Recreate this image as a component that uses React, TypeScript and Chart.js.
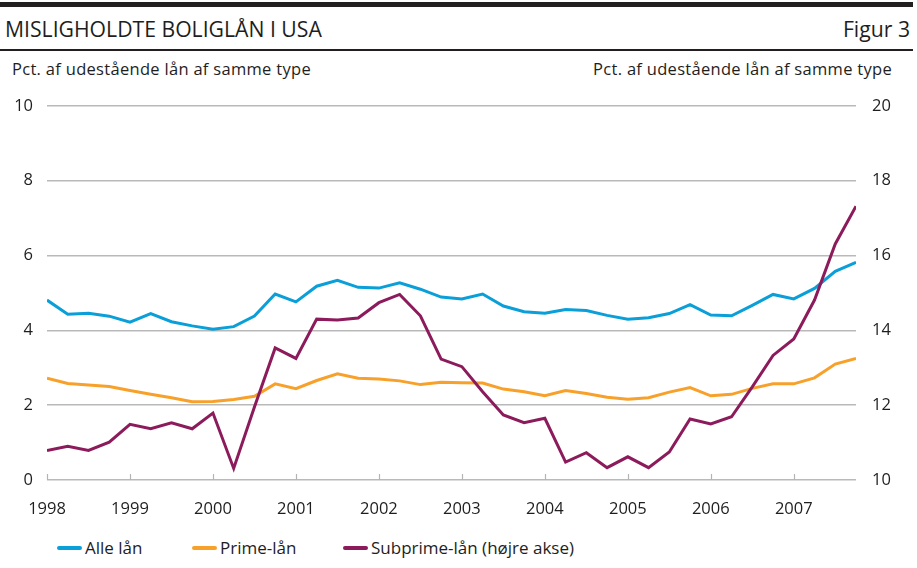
import React, { useEffect, useRef } from "react";
import { Chart, registerables } from "chart.js";

Chart.register(...registerables);

const startYear = 1998;
const yearTicks = [1998, 1999, 2000, 2001, 2002, 2003, 2004, 2005, 2006, 2007];

const alleLaan = [4.81, 4.43, 4.46, 4.38, 4.22, 4.45, 4.23, 4.12, 4.03, 4.10, 4.38, 4.97, 4.76, 5.18, 5.34, 5.15, 5.13, 5.27, 5.10, 4.89, 4.84, 4.97, 4.65, 4.50, 4.46, 4.56, 4.53, 4.40, 4.30, 4.34, 4.45, 4.69, 4.41, 4.39, 4.67, 4.96, 4.84, 5.12, 5.58, 5.82];
const primeLaan = [2.72, 2.58, 2.54, 2.50, 2.39, 2.29, 2.20, 2.09, 2.10, 2.15, 2.24, 2.57, 2.44, 2.66, 2.84, 2.72, 2.70, 2.65, 2.55, 2.61, 2.60, 2.59, 2.43, 2.36, 2.25, 2.39, 2.31, 2.21, 2.16, 2.20, 2.35, 2.47, 2.25, 2.29, 2.45, 2.57, 2.57, 2.73, 3.10, 3.25];
const subprimeLaan = [10.79, 10.90, 10.79, 11.01, 11.49, 11.37, 11.53, 11.37, 11.79, 10.31, 11.95, 13.53, 13.25, 14.30, 14.28, 14.33, 14.74, 14.96, 14.39, 13.23, 13.03, 12.36, 11.74, 11.53, 11.65, 10.48, 10.73, 10.33, 10.62, 10.33, 10.75, 11.63, 11.50, 11.69, 12.49, 13.33, 13.77, 14.81, 16.31, 17.32];

const seriesNames = ["Alle lån", "Prime-lån", "Subprime-lån (højre akse)"];
const seriesColors = ["#0a9fd8", "#f8a12a", "#8c1b5c"];

const leftTicks = [0, 2, 4, 6, 8, 10];
const rightTicks = [10, 12, 14, 16, 18, 20];

const FONT = "'Open Sans', 'Noto Sans', sans-serif";
const TEXT = "#1e1e1e";

const toPoints = (arr: number[]) => arr.map((v, i) => ({ x: startYear + i / 4, y: v }));

const tickMarks = {
  id: "tickMarks",
  afterDatasetsDraw(chart: any) {
    const x = chart.scales.x;
    const ctx = chart.ctx;
    const bottom = chart.chartArea.bottom;
    ctx.save();
    ctx.strokeStyle = "#b4b4b4";
    ctx.lineWidth = 1.2;
    yearTicks.forEach((yr) => {
      const px = Math.round(x.getPixelForValue(yr)) + 0.5;
      ctx.beginPath();
      ctx.moveTo(px, bottom);
      ctx.lineTo(px, bottom - 6);
      ctx.stroke();
    });
    ctx.restore();
  },
};

export default function App() {
  const ref = useRef<HTMLCanvasElement | null>(null);

  useEffect(() => {
    if (!ref.current) return;
    const chart = new Chart(ref.current, {
      type: "line",
      data: {
        datasets: [
          {
            label: seriesNames[0],
            data: toPoints(alleLaan),
            borderColor: seriesColors[0],
            backgroundColor: seriesColors[0],
            borderWidth: 3,
            pointRadius: 0,
            tension: 0,
            yAxisID: "y",
            order: 2,
          },
          {
            label: seriesNames[1],
            data: toPoints(primeLaan),
            borderColor: seriesColors[1],
            backgroundColor: seriesColors[1],
            borderWidth: 3,
            pointRadius: 0,
            tension: 0,
            yAxisID: "y",
            order: 1,
          },
          {
            label: seriesNames[2],
            data: toPoints(subprimeLaan),
            borderColor: seriesColors[2],
            backgroundColor: seriesColors[2],
            borderWidth: 3,
            pointRadius: 0,
            tension: 0,
            yAxisID: "y2",
            order: 0,
          },
        ],
      },
      options: {
        animation: false,
        responsive: false,
        maintainAspectRatio: false,
        layout: { padding: { top: 22, left: 0, right: 0, bottom: 0 } },
        plugins: { legend: { display: false }, tooltip: { enabled: false } },
        scales: {
          x: {
            type: "linear",
            min: startYear,
            max: startYear + (alleLaan.length - 1) / 4,
            afterBuildTicks: (s: any) => {
              s.ticks = yearTicks.map((v) => ({ value: v }));
            },
            afterFit: (s: any) => {
              s.height = 50;
            },
            grid: { display: false, drawTicks: false },
            border: { display: false },
            ticks: {
              padding: 19,
              maxRotation: 0,
              autoSkip: false,
              color: TEXT,
              font: { family: FONT, size: 16.5 },
              callback: (v: any) => String(v),
            },
          },
          y: {
            position: "left",
            min: 0,
            max: 10,
            afterBuildTicks: (s: any) => {
              s.ticks = leftTicks.map((v) => ({ value: v }));
            },
            afterFit: (s: any) => {
              s.width = 47;
            },
            grid: { color: "#b9b9b9", lineWidth: 1.5, drawTicks: false },
            border: { display: false },
            ticks: { padding: 14, color: TEXT, font: { family: FONT, size: 16.5 } },
          },
          y2: {
            position: "right",
            min: 10,
            max: 20,
            afterBuildTicks: (s: any) => {
              s.ticks = rightTicks.map((v) => ({ value: v }));
            },
            afterFit: (s: any) => {
              s.width = 61;
            },
            grid: { display: false, drawTicks: false },
            border: { display: false },
            ticks: { padding: 16, color: TEXT, font: { family: FONT, size: 16.5 } },
          },
        },
      },
      plugins: [tickMarks],
    });
    return () => chart.destroy();
  }, []);

  const textBase: React.CSSProperties = {
    position: "absolute",
    fontFamily: FONT,
    color: TEXT,
    whiteSpace: "nowrap",
  };

  const legendLeft = [57, 192, 343];

  return (
    <div style={{ position: "absolute", left: 0, top: 0, width: 917, height: 568, background: "#fff", overflow: "hidden" }}>
      <div style={{ position: "absolute", left: 0, top: 2, width: 913, height: 5, background: "#231f20" }} />
      <div style={{ ...textBase, left: 5, top: 18, fontSize: 21.2, lineHeight: "21px" }}>MISLIGHOLDTE BOLIGLÅN I USA</div>
      <div style={{ ...textBase, right: 7, top: 18, fontSize: 21.2, lineHeight: "21px" }}>Figur 3</div>
      <div style={{ position: "absolute", left: 0, top: 49, width: 913, height: 2, background: "#231f20" }} />
      <div style={{ ...textBase, left: 12, top: 61, fontSize: 16.5, lineHeight: "16.5px", letterSpacing: 0.3 }}>Pct. af udestående lån af samme type</div>
      <div style={{ ...textBase, right: 25, top: 61, fontSize: 16.5, lineHeight: "16.5px", letterSpacing: 0.3 }}>Pct. af udestående lån af samme type</div>
      <canvas ref={ref} width={917} height={450} style={{ position: "absolute", left: 0, top: 80, width: 917, height: 450 }} />
      {seriesNames.map((name, i) => (
        <div key={name} style={{ position: "absolute", left: legendLeft[i], top: 539, height: 18, display: "flex", alignItems: "center", gap: 3 }}>
          <div style={{ width: 25, height: 3.5, borderRadius: 2, background: seriesColors[i] }} />
          <span style={{ fontFamily: FONT, color: TEXT, fontSize: 17, lineHeight: "18px", whiteSpace: "nowrap" }}>{name}</span>
        </div>
      ))}
    </div>
  );
}
